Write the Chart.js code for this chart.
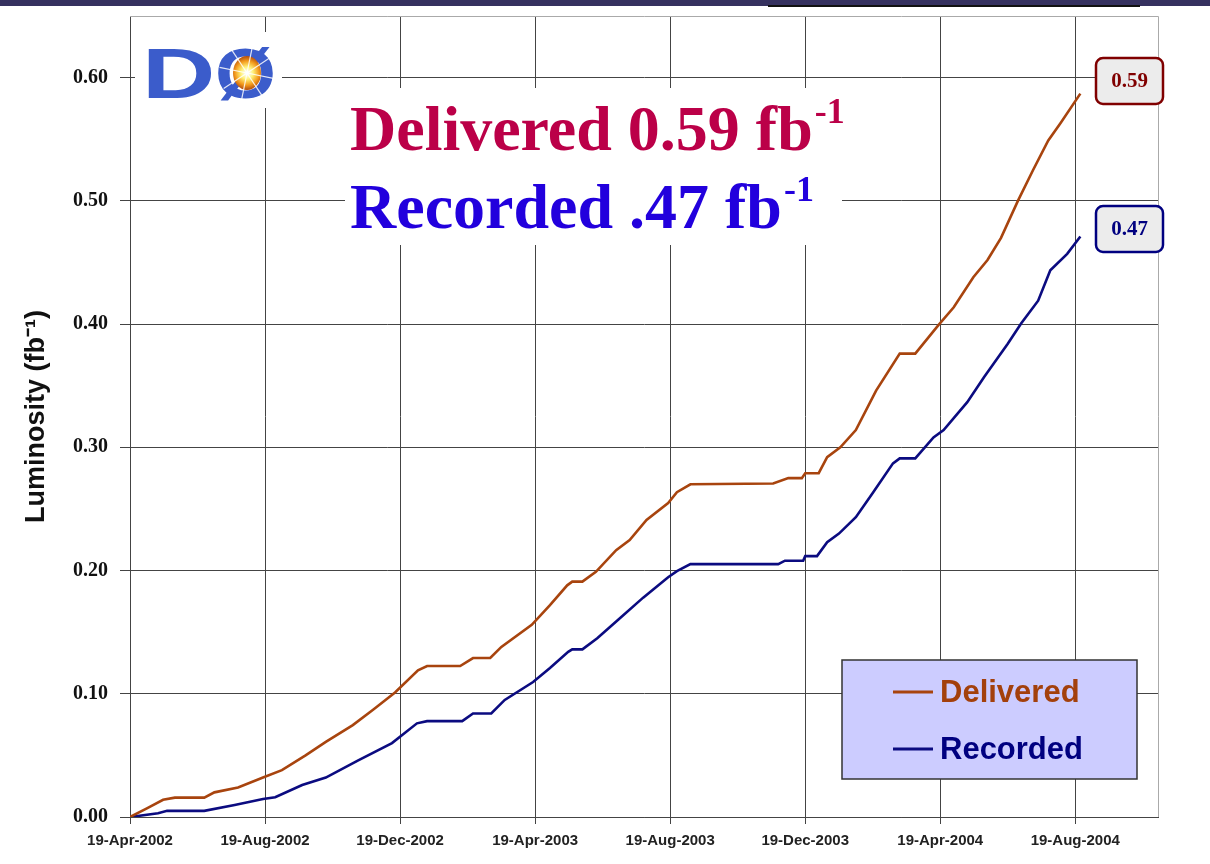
<!DOCTYPE html>
<html>
<head>
<meta charset="utf-8">
<script src="https://cdn.jsdelivr.net/npm/chart.js@4.4.1/dist/chart.umd.min.js"></script>
<style>
  html, body { margin: 0; padding: 0; background: #fff; }
  #wrap { width: 1210px; height: 864px; position: relative; }
</style>
</head>
<body>
<div id="wrap"><canvas id="lumi"></canvas></div>
<script>
// months since 19-Apr-2002
var tickLabels = ['19-Apr-2002', '19-Aug-2002', '19-Dec-2002', '19-Apr-2003',
                  '19-Aug-2003', '19-Dec-2003', '19-Apr-2004', '19-Aug-2004'];

var deliveredMonths = [0, 0.5, 0.98, 1.33, 2.2, 2.5, 3.2, 3.94, 4.5, 5.2, 5.8, 6.6, 7.2, 7.85, 8.53, 8.8, 9.78,
  10.16, 10.67, 11.0, 11.9, 12.44, 12.95, 13.1, 13.4, 13.8, 14.4, 14.8, 15.3, 15.94, 16.2, 16.6, 19.05,
  19.5, 19.9, 20.0, 20.4, 20.65, 21.04, 21.5, 22.1, 22.8, 23.26, 23.94, 24.4, 24.98, 25.4, 25.8, 26.3,
  26.75, 27.2, 27.56, 28.15];
var deliveredValues = [0, 0.007, 0.014, 0.0157, 0.0157, 0.020, 0.024, 0.032, 0.038, 0.050, 0.061, 0.0746, 0.087,
  0.101, 0.119, 0.1225, 0.1225, 0.129, 0.129, 0.138, 0.156, 0.172, 0.188, 0.191, 0.191, 0.199, 0.2165, 0.2247,
  0.241, 0.2547, 0.2636, 0.270, 0.2706, 0.275, 0.275, 0.279, 0.279, 0.292, 0.300, 0.314, 0.346, 0.376, 0.376,
  0.399, 0.4136, 0.438, 0.452, 0.470, 0.500, 0.525, 0.549, 0.563, 0.587];

var recordedMonths = [0, 0.83, 1.1, 2.2, 3.1, 3.94, 4.3, 5.1, 5.8, 6.76, 7.76, 8.5, 8.8, 9.84, 10.16, 10.7,
  11.1, 11.94, 12.44, 12.98, 13.1, 13.4, 13.84, 14.46, 15.2, 15.94, 16.2, 16.6, 19.2, 19.4, 19.94, 20.0,
  20.35, 20.65, 21.0, 21.5, 22.0, 22.6, 22.8, 23.26, 23.8, 24.1, 24.8, 25.3, 26.0, 26.4, 26.9, 27.26,
  27.76, 28.15];
var recordedValues = [0, 0.003, 0.005, 0.005, 0.0097, 0.0146, 0.016, 0.026, 0.032, 0.046, 0.060, 0.076, 0.0778,
  0.0778, 0.084, 0.084, 0.095, 0.1095, 0.121, 0.134, 0.136, 0.136, 0.145, 0.160, 0.178, 0.1946, 0.1995, 0.2052,
  0.2052, 0.208, 0.208, 0.2117, 0.2117, 0.223, 0.230, 0.2433, 0.263, 0.287, 0.291, 0.291, 0.308, 0.314, 0.3366,
  0.357, 0.384, 0.4006, 0.419, 0.4436, 0.457, 0.471];

var deliveredTotal = '0.59';
var recordedTotal = '0.47';

function toPoints(xs, ys) {
  return xs.map(function (m, i) { return { x: m, y: ys[i] }; });
}

// slide bits, logo, big labels, end-value boxes, legend
var decorations = {
  id: 'decorations',
  beforeDraw: function (chart) {
    var ctx = chart.ctx;
    ctx.save();
    ctx.fillStyle = '#fff';
    ctx.fillRect(0, 0, chart.width, chart.height);
    ctx.restore();
  },
  afterDraw: function (chart) {
    var ctx = chart.ctx;
    var a = chart.chartArea;
    ctx.save();

    // frame top + right
    ctx.strokeStyle = '#aaa';
    ctx.lineWidth = 1;
    ctx.beginPath();
    ctx.moveTo(a.left, a.top + 0.5);
    ctx.lineTo(a.right + 0.5, a.top + 0.5);
    ctx.lineTo(a.right + 0.5, a.bottom);
    ctx.stroke();

    // slide header band
    ctx.fillStyle = '#35315f';
    ctx.fillRect(0, 0, chart.width, 6);
    ctx.fillStyle = '#111';
    ctx.fillRect(768, 5, 372, 2);

    // logo
    ctx.fillStyle = '#fff';
    ctx.fillRect(135, 32, 147, 76);
    ctx.fillStyle = '#3b5ccb';
    ctx.textBaseline = 'alphabetic';
    ctx.textAlign = 'left';
    ctx.save();
    ctx.translate(142, 98);
    ctx.scale(1.45, 1);
    ctx.font = 'bold 70px "Liberation Sans"';
    ctx.fillText('D', 0, 0);
    ctx.restore();
    ctx.save();
    ctx.translate(215, 98);
    ctx.scale(1.12, 1);
    ctx.font = 'bold 70px "Liberation Sans"';
    ctx.fillText('\u00d8', 0, 0);
    ctx.restore();
    var cx = 247, cy = 73;
    var g = ctx.createRadialGradient(cx, cy, 1, cx, cy, 18);
    g.addColorStop(0, '#ffffff');
    g.addColorStop(0.3, '#fff27a');
    g.addColorStop(0.65, '#f39a1c');
    g.addColorStop(1, '#a33a0a');
    ctx.fillStyle = g;
    ctx.beginPath();
    ctx.ellipse(cx, cy, 14, 17, 0, 0, Math.PI * 2);
    ctx.fill();
    ctx.strokeStyle = 'rgba(255,255,255,0.85)';
    ctx.lineWidth = 1.2;
    for (var k = 0; k < 8; k++) {
      var ang = k * Math.PI / 4 + 0.2;
      ctx.beginPath();
      ctx.moveTo(cx, cy);
      ctx.lineTo(cx + Math.cos(ang) * 28, cy + Math.sin(ang) * 28);
      ctx.stroke();
    }

    // big summary text
    ctx.fillStyle = '#fff';
    ctx.fillRect(345, 88, 497, 157);
    function supText(main, sup, x, y, color) {
      ctx.fillStyle = color;
      ctx.font = 'bold 64px "Liberation Serif"';
      ctx.fillText(main, x, y);
      var w = ctx.measureText(main).width;
      ctx.font = 'bold 36px "Liberation Serif"';
      ctx.fillText(sup, x + w + 2, y - 27);
    }
    supText('Delivered ' + deliveredTotal + ' fb', '-1', 350, 150, '#bb0048');
    supText('Recorded .' + recordedTotal.split('.')[1] + ' fb', '-1', 350, 228, '#2200dd');

    // end-value boxes
    function valueBox(txt, y, color) {
      ctx.fillStyle = '#ececec';
      ctx.strokeStyle = color;
      ctx.lineWidth = 2.5;
      ctx.beginPath();
      ctx.roundRect(1096, y, 67, 46, 7);
      ctx.fill();
      ctx.stroke();
      ctx.fillStyle = color;
      ctx.font = 'bold 21px "Liberation Serif"';
      ctx.textAlign = 'center';
      ctx.textBaseline = 'middle';
      ctx.fillText(txt, 1129.5, y + 24);
      ctx.textAlign = 'left';
      ctx.textBaseline = 'alphabetic';
    }
    valueBox(deliveredTotal, 58, '#800000');
    valueBox(recordedTotal, 206, '#000080');

    // legend box
    ctx.fillStyle = '#ccccff';
    ctx.fillRect(842, 660, 295, 119);
    ctx.strokeStyle = '#333';
    ctx.lineWidth = 1.5;
    ctx.strokeRect(842, 660, 295, 119);
    var rows = [692, 749];
    chart.data.datasets.forEach(function (ds, i) {
      var y = rows[i];
      ctx.strokeStyle = ds.borderColor;
      ctx.lineWidth = 3;
      ctx.beginPath();
      ctx.moveTo(893, y);
      ctx.lineTo(933, y);
      ctx.stroke();
      ctx.fillStyle = ds.legendColor;
      ctx.font = 'bold 31px "Liberation Sans"';
      ctx.textBaseline = 'middle';
      ctx.fillText(ds.label, 940, y + 1);
    });
    ctx.restore();
  }
};

var canvas = document.getElementById('lumi');
var chart = new Chart(canvas, {
  type: 'line',
  data: {
    datasets: [
      {
        label: 'Delivered',
        data: toPoints(deliveredMonths, deliveredValues),
        borderColor: '#a8440e',
        legendColor: '#a3400c',
        borderWidth: 2.6,
        pointRadius: 0,
        tension: 0,
        fill: false
      },
      {
        label: 'Recorded',
        data: toPoints(recordedMonths, recordedValues),
        borderColor: '#0b0b80',
        legendColor: '#000080',
        borderWidth: 2.6,
        pointRadius: 0,
        tension: 0,
        fill: false
      }
    ]
  },
  options: {
    responsive: true,
    maintainAspectRatio: false,
    animation: false,
    devicePixelRatio: 1,
    layout: { padding: { top: 16, right: 52, bottom: 0, left: 0 } },
    plugins: {
      legend: { display: false },
      tooltip: { enabled: false }
    },
    scales: {
      x: {
        type: 'linear',
        min: 0,
        max: 30.45,
        afterFit: function (s) { s.height = 47; },
        ticks: {
          stepSize: 4,
          includeBounds: false,
          autoSkip: false,
          maxRotation: 0,
          padding: 8,
          color: '#222',
          font: { family: '"Liberation Sans"', size: 15, weight: 'bold' },
          callback: function (v) {
            var lbl = tickLabels[Math.round(v / 4)];
            return lbl === undefined ? '' : lbl;
          }
        },
        grid: { color: '#444', lineWidth: 1, tickLength: 7 },
        border: { color: '#444', width: 1 }
      },
      y: {
        min: 0,
        max: 0.65,
        afterFit: function (s) { s.width = 130; s.paddingTop = 0; },
        ticks: {
          stepSize: 0.1,
          includeBounds: false,
          padding: 12,
          color: '#111',
          font: { family: '"Liberation Serif"', size: 20, weight: 'bold' },
          callback: function (v) { return Number(v).toFixed(2); }
        },
        grid: { color: '#444', lineWidth: 1, tickLength: 10 },
        border: { color: '#444', width: 1 },
        title: {
          display: true,
          text: 'Luminosity (fb\u207b\u00b9)',
          color: '#111',
          font: { family: '"Liberation Sans"', size: 27, weight: 'bold' },
          padding: { top: 20, bottom: 0 }
        }
      }
    }
  },
  plugins: [decorations]
});
</script>
</body>
</html>
